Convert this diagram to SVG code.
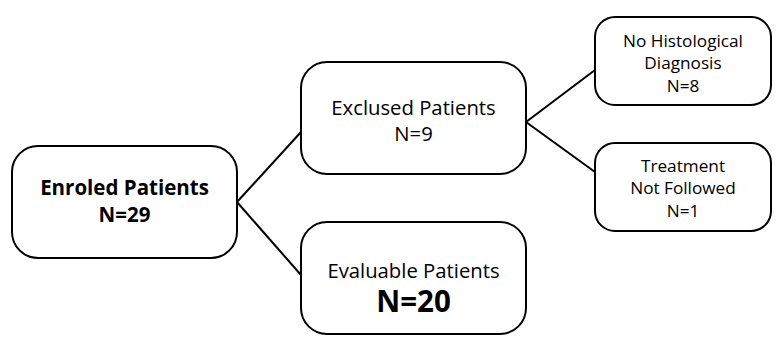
<svg xmlns="http://www.w3.org/2000/svg" width="784" height="349" viewBox="0 0 784 349">
<style>
.box{fill:#fff;stroke:#000;stroke-width:2}
.t{font-family:"Open Sans","Liberation Sans",sans-serif;fill:#000;text-anchor:middle}
.r{font-size:20.3px}
.b{font-size:20.5px;font-weight:bold}
.s{font-size:17.2px}
.conn line{stroke:#000;stroke-width:2}
</style>
<rect width="784" height="349" fill="#fff"/>
<g class="conn">
<line x1="237" y1="202" x2="301" y2="132"/>
<line x1="237" y1="202" x2="301" y2="275"/>
<line x1="526" y1="122" x2="595" y2="70"/>
<line x1="526" y1="122" x2="595" y2="172"/>
</g>
<g id="enroled">
<rect class="box" x="12" y="146" width="225" height="112" rx="26"/>
<text class="t b" x="124.5" y="195">Enroled Patients</text>
<text class="t b" x="124.5" y="222">N=29</text>
</g>
<g id="exclused">
<rect class="box" x="301" y="62" width="225" height="112" rx="26"/>
<text class="t r" x="413.5" y="115">Exclused Patients</text>
<text class="t r" x="413.5" y="141">N=9</text>
</g>
<g id="evaluable">
<rect class="box" x="301" y="222" width="225" height="112" rx="26"/>
<text class="t r" x="413.5" y="278">Evaluable Patients</text>
<text class="t" x="413.5" y="312" style="font-size:29.5px;font-weight:bold">N=20</text>
</g>
<g id="nohisto">
<rect class="box" x="595" y="17" width="176" height="88" rx="20"/>
<text class="t s" x="683" y="47">No Histological</text>
<text class="t s" x="683" y="69">Diagnosis</text>
<text class="t s" x="683" y="92">N=8</text>
</g>
<g id="treatment">
<rect class="box" x="595" y="143" width="176" height="88" rx="20"/>
<text class="t s" x="683" y="172">Treatment</text>
<text class="t s" x="683" y="194">Not Followed</text>
<text class="t s" x="683" y="217">N=1</text>
</g>
</svg>
